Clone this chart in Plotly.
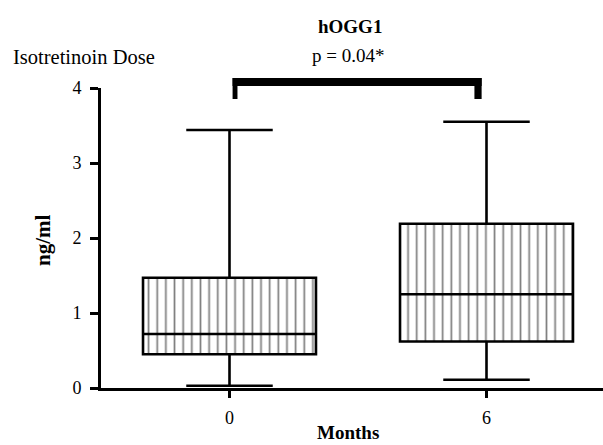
import plotly.graph_objects as go

# ---- data ----
months = ["0", "6"]
q1 = [0.45, 0.62]
median = [0.72, 1.25]
q3 = [1.47, 2.19]
lower = [0.03, 0.11]
upper = [3.44, 3.55]
y_ticks = [0, 1, 2, 3, 4]
title = "hOGG1"
p_text = "p = 0.04*"

FONT = "Liberation Serif"
pos = list(range(len(months)))
BOX_W = 0.673

fig = go.Figure()

# hatched body
fig.add_trace(go.Bar(
    x=pos, y=[b - a for a, b in zip(q1, q3)], base=q1, width=BOX_W,
    marker=dict(color="white", line=dict(width=0),
                pattern=dict(shape="|", size=8.65, solidity=0.2,
                             fgcolor="black", bgcolor="white")),
    showlegend=False, hoverinfo="skip"))

# box outline, median, whiskers
fig.add_trace(go.Box(
    x=pos, q1=q1, median=median, q3=q3, lowerfence=lower, upperfence=upper,
    width=BOX_W, whiskerwidth=0.5, boxpoints=False,
    fillcolor="rgba(0,0,0,0)", line=dict(color="black", width=2.6),
    showlegend=False))

L, T, W, H = 101, 88, 502, 300


def px(x):
    return (x - L) / W


def py(y):
    return (T + H - y) / H


# significance bracket (x in data units, y in paper units above the plot)
bar_y0, bar_y1, leg_y0 = py(86), py(78), py(99)
xl0, xl1 = pos[0] + 0.012, pos[0] + 0.031
xr0, xr1 = pos[1] - 0.047, pos[1] - 0.019
shapes = [
    dict(type="rect", xref="x", yref="paper", x0=xl0, x1=xr1, y0=bar_y0, y1=bar_y1,
         fillcolor="black", line=dict(width=0)),
    dict(type="rect", xref="x", yref="paper", x0=xl0, x1=xl1, y0=leg_y0, y1=bar_y1,
         fillcolor="black", line=dict(width=0)),
    dict(type="rect", xref="x", yref="paper", x0=xr0, x1=xr1, y0=leg_y0, y1=bar_y1,
         fillcolor="black", line=dict(width=0)),
]

ann = [
    dict(text="<b>" + title + "</b>", x=px(350), y=py(27), size=19),
    dict(text=p_text, x=px(348), y=py(56), size=19),
    dict(text="Isotretinoin Dose", x=px(11), y=py(57), size=20.5, xanchor="left"),
    dict(text="<b>Months</b>", x=px(348), y=py(432), size=19),
]
annotations = []
for a in ann:
    annotations.append(dict(
        text=a["text"], x=a["x"], y=a["y"], xref="paper", yref="paper",
        xanchor=a.get("xanchor", "center"), yanchor="middle", showarrow=False,
        font=dict(family=FONT, size=a["size"], color="black")))
annotations.append(dict(
    text="<b>ng/ml</b>", x=px(43), y=py(240), xref="paper", yref="paper",
    xanchor="center", yanchor="middle", textangle=-90, showarrow=False,
    font=dict(family=FONT, size=21, color="black")))

fig.update_layout(
    width=603, height=445,
    margin=dict(l=L, r=603 - L - W, t=T, b=445 - T - H, autoexpand=False),
    paper_bgcolor="white", plot_bgcolor="white",
    font=dict(family=FONT, size=18, color="black"),
    annotations=annotations, shapes=shapes,
    bargap=0,
)
fig.update_xaxes(
    range=[-0.5, -0.5 + W / 257.0], tickmode="array", tickvals=pos,
    ticktext=months, showgrid=False, zeroline=False,
    showline=True, linecolor="black", linewidth=2.6,
    ticks="outside", ticklen=7, tickwidth=2.6, tickcolor="black",
    ticklabelstandoff=5, tickfont=dict(family=FONT, size=18))
fig.update_yaxes(
    range=[0, 4], tickmode="array", tickvals=y_ticks, showgrid=False,
    zeroline=False, showline=True, linecolor="black", linewidth=2.6,
    ticks="outside", ticklen=8, tickwidth=2.6, tickcolor="black",
    ticklabelstandoff=5, tickfont=dict(family=FONT, size=18))

fig.write_html(
    "out.html",
    config={"displayModeBar": False},
    post_script="document.body.style.margin='0';document.body.style.overflow='hidden';")
